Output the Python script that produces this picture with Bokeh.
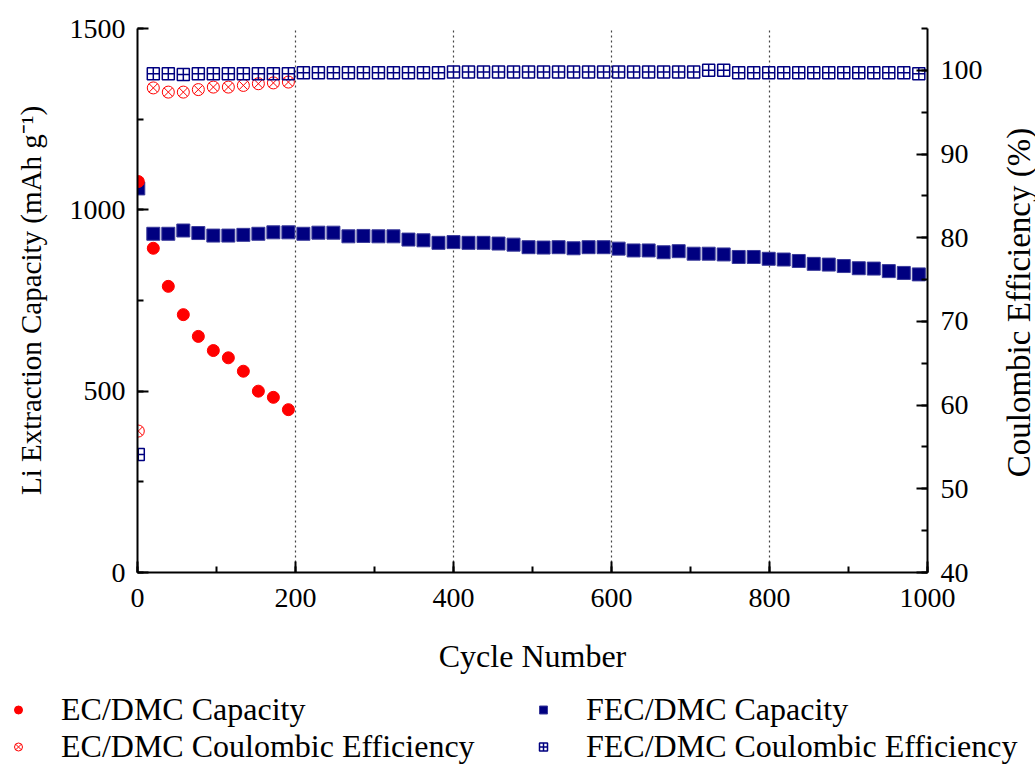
import math
from bokeh.plotting import figure
from bokeh.layouts import column, row
from bokeh.models import (Range1d, LinearAxis, SingleIntervalTicker, FixedTicker,
                          Legend, LegendItem, ColumnDataSource, Label)
from bokeh.embed import file_html
from bokeh.resources import INLINE

# ---------------- data ----------------
cycles_ec = [1, 20, 39, 58, 77, 96, 115, 134, 153, 172, 191]
ec_capacity = [1078, 894, 789, 711, 651, 612, 592, 555, 500, 483, 449]
ec_ce = [56.9, 97.9, 97.4, 97.4, 97.7, 98.0, 98.0, 98.2, 98.4, 98.5, 98.6]

cycles_fec = [1, 20, 39, 58, 77, 96, 115, 134, 153, 172, 191, 210, 229, 248,
              267, 286, 305, 324, 343, 362, 381, 400, 419, 438, 457, 476, 495,
              514, 533, 552, 571, 590, 609, 628, 647, 666, 685, 704, 723, 742,
              761, 780, 799, 818, 837, 856, 875, 894, 913, 932, 951, 970, 989]
fec_capacity = [1059, 934, 934, 943, 936, 929, 929, 931, 934, 938, 938, 934,
                937, 937, 927, 928, 927, 927, 918, 916, 909, 911, 909, 909,
                907, 904, 897, 896, 897, 894, 897, 897, 893, 888, 888, 883,
                886, 879, 879, 877, 870, 870, 865, 863, 859, 851, 849, 845,
                839, 838, 831, 826, 822]
fec_ce = [54.1,
          99.6, 99.6, 99.5, 99.6, 99.6, 99.6, 99.6, 99.6, 99.6, 99.6,
          99.7, 99.7, 99.7, 99.7, 99.7, 99.7, 99.7, 99.7, 99.7, 99.7,
          99.8, 99.8, 99.8, 99.8, 99.8, 99.8, 99.8, 99.8, 99.8, 99.8,
          99.8, 99.8, 99.8, 99.8, 99.8, 99.8, 99.8,
          100.0, 100.0,
          99.7, 99.7, 99.7, 99.7, 99.7, 99.7, 99.7, 99.7, 99.7, 99.7, 99.7, 99.7,
          99.6]

x_ticks_grid = [200, 400, 600, 800]

FONT = "Liberation Serif"
RED = "#FF0000"
NAVY = "#000080"

src_ec = ColumnDataSource(dict(x=cycles_ec, cap=ec_capacity, ce=ec_ce))
src_fec = ColumnDataSource(dict(x=cycles_fec, cap=fec_capacity, ce=fec_ce))

# ---------------- main plot ----------------
p = figure(width=985, height=690, output_backend="svg", toolbar_location=None,
           x_range=Range1d(0, 1000), y_range=Range1d(0, 1500),
           min_border_left=137, min_border_right=56, min_border_top=28,
           min_border_bottom=118, x_axis_label="Cycle Number",
           y_axis_label="Li Extraction Capacity (mAh g\u207b\u00b9)")
p.frame_align = False
p.extra_y_ranges = {"ce": Range1d(40, 105)}
p.outline_line_color = None
p.background_fill_color = "white"
p.border_fill_color = "white"

right_axis = LinearAxis(y_range_name="ce")
p.add_layout(right_axis, "right")

p.xaxis.ticker = SingleIntervalTicker(interval=200, num_minor_ticks=2)
p.yaxis[0].ticker = SingleIntervalTicker(interval=500, num_minor_ticks=2)
right_axis.ticker = SingleIntervalTicker(interval=10, num_minor_ticks=2)

for ax in [p.xaxis[0], p.yaxis[0], right_axis]:
    ax.axis_line_width = 2
    ax.axis_line_color = "black"
    ax.major_tick_in = 11
    ax.major_tick_out = 0
    ax.minor_tick_in = 6
    ax.minor_tick_out = 0
    ax.major_tick_line_width = 2
    ax.minor_tick_line_width = 2
    ax.major_tick_line_color = "black"
    ax.minor_tick_line_color = "black"
    ax.major_label_text_font = FONT
    ax.major_label_text_font_size = "28px"
    ax.major_label_text_color = "black"
    ax.axis_label_text_font = FONT
    ax.axis_label_text_font_style = "normal"
    ax.axis_label_text_color = "black"

p.xaxis.axis_label_text_font_size = "32px"
p.yaxis[0].axis_label_text_font_size = "29px"

p.xaxis.major_label_standoff = 16
p.xaxis.axis_label_standoff = 28
p.yaxis[0].major_label_standoff = 12
p.yaxis[0].axis_label_standoff = 20
right_axis.major_label_standoff = 13

p.xgrid.ticker = FixedTicker(ticks=x_ticks_grid)
p.xgrid.grid_line_color = "#444444"
p.xgrid.grid_line_dash = "2 3"
p.xgrid.grid_line_width = 1.2
for g in p.ygrid:
    g.visible = False

FEC_CAP = dict(marker="square", fill_color=NAVY, line_color="#3a3a9a", line_width=1)
EC_CAP = dict(marker="circle", fill_color=RED, line_color=RED, line_width=1)
EC_CE = dict(marker="circle_x", fill_color=None, line_color=RED, line_width=1)
FEC_CE = dict(marker="square_cross", fill_color=None, line_color=NAVY, line_width=1.5)

p.scatter("x", "cap", source=src_fec, size=13, **FEC_CAP)
p.scatter("x", "cap", source=src_ec, size=12, **EC_CAP)
p.scatter("x", "ce", source=src_ec, size=12, y_range_name="ce", **EC_CE)
p.scatter("x", "ce", source=src_fec, size=12, y_range_name="ce", **FEC_CE)

# ---------------- right axis title strip (reads bottom-to-top) ----------------
r = figure(width=50, height=690, output_backend="svg", toolbar_location=None,
           x_range=Range1d(0, 1), y_range=Range1d(0, 1),
           x_axis_location=None, y_axis_location=None, min_border=0)
r.frame_align = False
r.outline_line_color = None
r.grid.visible = False
r.add_layout(Label(x=33, y=388, x_units="screen", y_units="screen",
                   text="Coulombic Efficiency (%)", angle=math.pi / 2,
                   text_align="center", text_baseline="middle",
                   text_font=FONT, text_font_size="33px", text_color="black"))

# ---------------- legend strip ----------------
q = figure(width=1035, height=76, output_backend="svg", toolbar_location=None,
           x_range=Range1d(0, 1), y_range=Range1d(0, 1),
           x_axis_location=None, y_axis_location=None, min_border=0)
q.frame_align = False
q.outline_line_color = None
q.grid.visible = False

# legend swatches (kept off-screen; only their styles are used by the legend)
lr_ec_cap = q.scatter(x=[-5], y=[-5], size=8, **EC_CAP)
lr_ec_ce = q.scatter(x=[-5], y=[-5], size=8, **EC_CE)
lr_fec_cap = q.scatter(x=[-5], y=[-5], size=8, **FEC_CAP)
lr_fec_ce = q.scatter(x=[-5], y=[-5], size=8, **FEC_CE)


def make_legend(items, loc):
    return Legend(items=items, location=loc, orientation="vertical",
                  glyph_width=20, glyph_height=37, label_height=37,
                  label_standoff=33, spacing=0, padding=0, margin=0,
                  border_line_color=None, background_fill_alpha=0,
                  label_text_font=FONT, label_text_font_size="32px",
                  label_text_color="black")


leg1 = make_legend([LegendItem(label="EC/DMC Capacity", renderers=[lr_ec_cap]),
                    LegendItem(label="EC/DMC Coulombic Efficiency", renderers=[lr_ec_ce])],
                   (8, 1))
leg2 = make_legend([LegendItem(label="FEC/DMC Capacity", renderers=[lr_fec_cap]),
                    LegendItem(label="FEC/DMC Coulombic Efficiency", renderers=[lr_fec_ce])],
                   (533, 1))
q.add_layout(leg1, "center")
q.add_layout(leg2, "center")

layout = column(row(p, r, spacing=0), q, spacing=0)
open("out.html", "w").write(file_html(layout, INLINE))
